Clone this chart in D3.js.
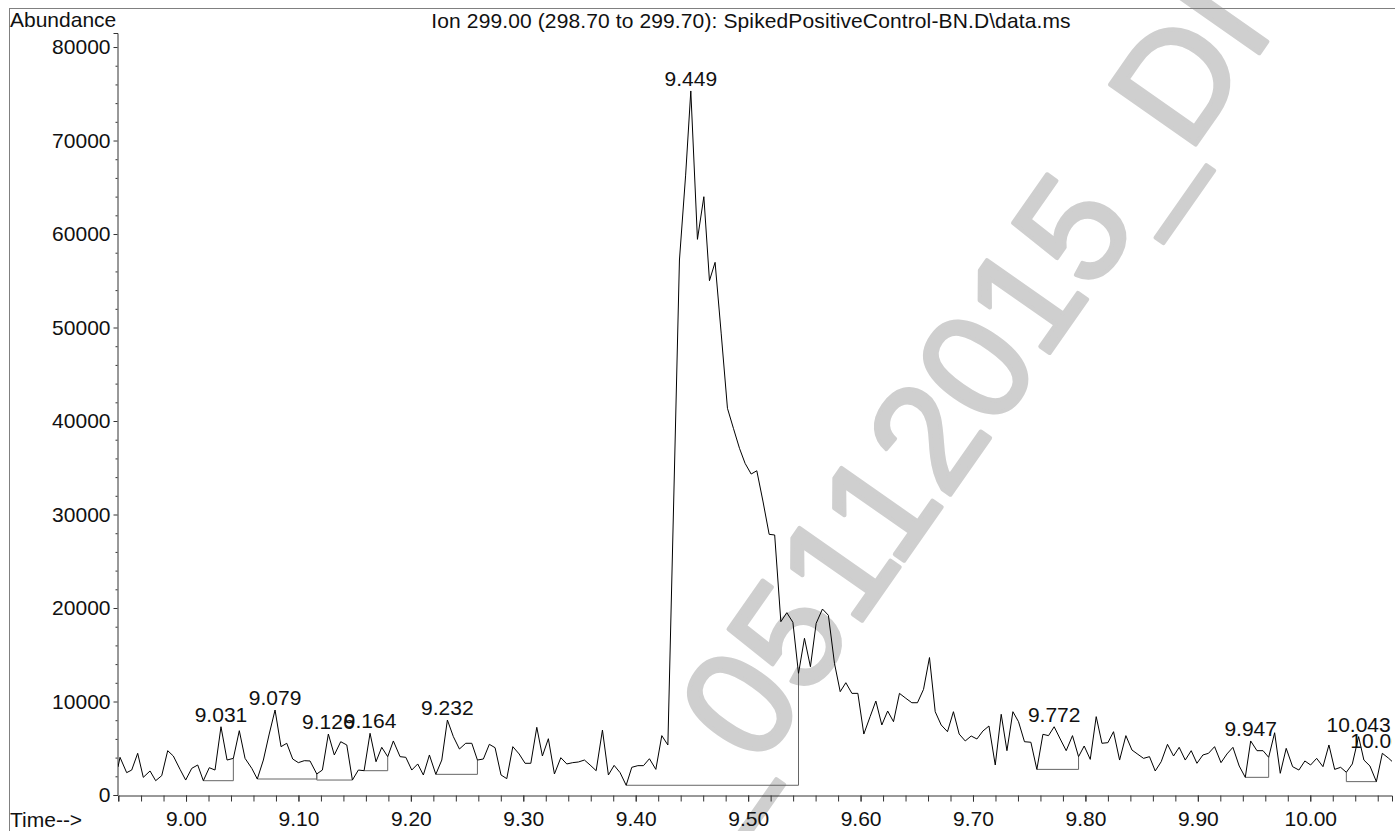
<!DOCTYPE html>
<html>
<head>
<meta charset="utf-8">
<script src="https://cdn.jsdelivr.net/npm/d3@7"></script>
<style>
  body { margin: 0; background: #fff; }
  text { font-family: "Liberation Sans", Arial, Helvetica, sans-serif; fill: #111; }
</style>
</head>
<body>
<div class="chromatogram"></div>
<script>
//Ion chromatogram data (retention time in minutes, abundance in counts)
var times = [8.9395, 8.9413, 8.9472, 8.9517, 8.9570, 8.9620, 8.9680, 8.9730, 8.9784, 8.9837,
  8.9887, 8.9947, 8.9997, 9.0051, 9.0104, 9.0154, 9.0207, 9.0258, 9.0311, 9.0365,
  9.0421, 9.0474, 9.0525, 9.0585, 9.0634, 9.0688, 9.0738, 9.0792, 9.0845, 9.0896,
  9.0949, 9.0999, 9.1052, 9.1103, 9.1163, 9.1213, 9.1266, 9.1319, 9.1376, 9.1430,
  9.1480, 9.1533, 9.1584, 9.1637, 9.1690, 9.1741, 9.1794, 9.1844, 9.1904, 9.1955,
  9.2008, 9.2061, 9.2111, 9.2165, 9.2222, 9.2275, 9.2325, 9.2378, 9.2432, 9.2488,
  9.2542, 9.2592, 9.2645, 9.2698, 9.2749, 9.2802, 9.2853, 9.2907, 9.2963, 9.3016,
  9.3067, 9.3120, 9.3170, 9.3223, 9.3277, 9.3334, 9.3387, 9.3440, 9.3490, 9.3544,
  9.3594, 9.3648, 9.3704, 9.3757, 9.3808, 9.3861, 9.3915, 9.3965, 9.4019, 9.4069,
  9.4122, 9.4179, 9.4232, 9.4286, 9.4389, 9.4444, 9.4490, 9.4549, 9.4606, 9.4656,
  9.4706, 9.4760, 9.4816, 9.4869, 9.4923, 9.4973, 9.5027, 9.5077, 9.5133, 9.5187,
  9.5236, 9.5291, 9.5344, 9.5398, 9.5448, 9.5501, 9.5554, 9.5605, 9.5661, 9.5714,
  9.5768, 9.5819, 9.5869, 9.5923, 9.5976, 9.6029, 9.6085, 9.6136, 9.6189, 9.6241,
  9.6293, 9.6346, 9.6403, 9.6456, 9.6506, 9.6560, 9.6613, 9.6664, 9.6717, 9.6773,
  9.6826, 9.6877, 9.6931, 9.6984, 9.7035, 9.7088, 9.7142, 9.7198, 9.7251, 9.7302,
  9.7355, 9.7405, 9.7458, 9.7515, 9.7568, 9.7622, 9.7672, 9.7722, 9.7776, 9.7829,
  9.7885, 9.7939, 9.7989, 9.8043, 9.8096, 9.8147, 9.8200, 9.8250, 9.8304, 9.8360,
  9.8414, 9.8467, 9.8517, 9.8570, 9.8621, 9.8674, 9.8730, 9.8784, 9.8834, 9.8888,
  9.8941, 9.8992, 9.9045, 9.9095, 9.9149, 9.9206, 9.9259, 9.9312, 9.9368, 9.9422,
  9.9470, 9.9526, 9.9580, 9.9630, 9.9683, 9.9733, 9.9786, 9.9843, 9.9899, 9.9952,
  10.0003, 10.0057, 10.0113, 10.0166, 10.0217, 10.0270, 10.0321, 10.0374, 10.0430, 10.0477,
  10.0531, 10.0588, 10.0641, 10.0698, 10.0727];

var abundance = [3000, 4030, 2390, 2670, 4460, 1890, 2570, 1530, 2070, 4740,
  4170, 2740, 1600, 2850, 3210, 1530, 2920, 2670, 7300, 3740,
  3920, 6880, 3920, 2850, 1710, 3740, 6420, 9090, 5170, 5530,
  3850, 3460, 3670, 3640, 2250, 2670, 6520, 4280, 5700, 5350,
  1600, 2670, 2600, 6600, 3560, 5100, 4100, 5780, 4100, 4030,
  2670, 3320, 2140, 4280, 2210, 3740, 8020, 6240, 4920, 5530,
  5530, 3740, 3850, 5420, 5060, 2140, 1750, 5170, 4390, 3390,
  3390, 7240, 4170, 6020, 2250, 3990, 3320, 3460, 3530, 3740,
  3210, 2600, 6950, 2140, 3170, 2390, 1040, 2960, 3140, 3140,
  3880, 2740, 6350, 5350, 57220, 66300, 75300, 59430, 63990, 55010,
  56970, 49400, 41360, 39220, 37080, 35470, 34330, 34680, 31340, 27880,
  27810, 18540, 19500, 18470, 13010, 16760, 13720, 18360, 19890, 19220,
  14080, 11050, 12010, 10870, 10870, 6520, 8380, 10050, 7490, 8980,
  7840, 10870, 10340, 9870, 9870, 11300, 14700, 8910, 7490, 6770,
  8910, 6520, 5780, 6310, 5990, 6840, 7380, 3210, 8630, 4740,
  8910, 7840, 5700, 5640, 2740, 6490, 6350, 7300, 5990, 4740,
  6350, 4100, 5240, 3810, 8380, 5530, 5600, 6770, 3740, 6350,
  4810, 4350, 3920, 4100, 2570, 3560, 5420, 4170, 5100, 3740,
  4740, 3390, 4280, 4460, 5170, 3460, 4390, 5100, 3100, 1890,
  5780, 4740, 4740, 4030, 6660, 2320, 4990, 3030, 2670, 3640,
  3210, 3920, 3030, 5350, 2740, 2960, 2430, 3320, 6240, 3740,
  3100, 1430, 4460, 3920, 3600];

//Integrated peaks: apex label, apex time, integration start and end
var peakLabels = ["9.031", "9.079", "9.126", "9.164", "9.232", "9.449", "9.772", "9.947", "10.043", "10.064"];
var peakApex   = [9.0311, 9.0792, 9.1266, 9.1637, 9.2325, 9.4490, 9.7722, 9.9470, 10.0430, 10.0641];
var peakStart  = [9.0154, 9.0634, 9.1163, 9.1584, 9.2222, 9.3915, 9.7568, 9.9422, 10.0321, null];
var peakEnd    = [9.0421, 9.1163, 9.1480, 9.1794, 9.2592, 9.5448, 9.7939, 9.9630, 10.0588, null];

//Axis ticks
var xTicks = [9.00, 9.10, 9.20, 9.30, 9.40, 9.50, 9.60, 9.70, 9.80, 9.90, 10.00];
var yTicks = [0, 10000, 20000, 30000, 40000, 50000, 60000, 70000, 80000];

var titleText = "Ion 299.00 (298.70 to 299.70): SpikedPositiveControl-BN.D\\data.ms";
var watermarkText = "05112015_DI";

//Canvas
var width = 1395,
    height = 831;

var margin = {
  top: 33,
  bottom: 36,
  left: 118,
  right: 3
};

var svg = d3.select(".chromatogram")
            .append("svg")
            .attr("width", width)
            .attr("height", height);

//Scales
var x = d3.scaleLinear()
          .domain([8.9395, 10.0727])
          .range([margin.left, width - margin.right]);

var y = d3.scaleLinear()
          .domain([0, 81500])
          .range([height - margin.bottom, margin.top]);

var fontSize = 21;

//Watermark (behind the trace)
svg.append("text")
   .attr("transform", "translate(710,838) rotate(-55)")
   .attr("font-size", 152)
   .style("fill", "#cfcfcf")
   .style("stroke", "#cfcfcf")
   .style("stroke-width", 4)
   .style("stroke-linejoin", "round")
   .text("_" + watermarkText);

//Outer frame
svg.append("line")
   .attr("x1", 9).attr("x2", width)
   .attr("y1", 8.5).attr("y2", 8.5)
   .attr("stroke", "#808080");
svg.append("line")
   .attr("x1", 9.5).attr("x2", 9.5)
   .attr("y1", 8).attr("y2", height)
   .attr("stroke", "#808080");

//Y axis: labelled ticks every 10000, small ticks every 2000
var yMinor = d3.range(0, 80001, 2000).filter(function(d) { return d % 10000 != 0; });

var yAxis = svg.append("g")
   .attr("transform", "translate(" + (margin.left - 0.5) + ",0)")
   .call(d3.axisLeft(y).tickValues(yTicks).tickSize(4).tickPadding(3).tickFormat(d3.format("d")));

svg.append("g")
   .attr("transform", "translate(" + (margin.left - 0.5) + ",0)")
   .call(d3.axisLeft(y).tickValues(yMinor).tickSize(2).tickFormat(""))
   .select(".domain").remove();

//X axis: labels every 0.1 min, ticks every 0.02 min
var xMinor = d3.range(0, 57).map(function(i) { return +(8.94 + i * 0.02).toFixed(2); });

var xAxis = svg.append("g")
   .attr("transform", "translate(0," + (height - margin.bottom + 0.5) + ")")
   .call(d3.axisBottom(x).tickValues(xTicks).tickSize(6).tickPadding(10).tickFormat(d3.format(".2f")));

svg.append("g")
   .attr("transform", "translate(0," + (height - margin.bottom + 0.5) + ")")
   .call(d3.axisBottom(x).tickValues(xMinor).tickSize(6).tickFormat(""))
   .select(".domain").remove();

svg.selectAll(".tick text")
   .attr("font-size", fontSize)
   .style("fill", "#111");
svg.selectAll(".domain, .tick line").attr("stroke", "#333");
svg.selectAll("g").attr("font-family", null);

//Axis titles and chart title
svg.append("text")
   .attr("x", 10).attr("y", 27)
   .attr("font-size", fontSize)
   .text("Abundance");

svg.append("text")
   .attr("x", 10).attr("y", 827)
   .attr("font-size", fontSize)
   .text("Time-->");

svg.append("text")
   .attr("x", 751).attr("y", 28)
   .attr("text-anchor", "middle")
   .attr("font-size", fontSize)
   .style("letter-spacing", "0.12px")
   .text(titleText);

//Clip the plot contents to the axis range
svg.append("clipPath")
   .attr("id", "plotClip")
   .append("rect")
   .attr("x", margin.left).attr("y", 0)
   .attr("width", width - margin.right - margin.left)
   .attr("height", height - margin.bottom + 1);

var plot = svg.append("g").attr("clip-path", "url(#plotClip)");

var points = times.map(function(t, i) { return { t: t, v: abundance[i] }; });

function valueAt(t) {
  var best = points[0];
  points.forEach(function(p) { if (Math.abs(p.t - t) < Math.abs(best.t - t)) best = p; });
  return best.v;
}

//Integration baselines
var peaks = peakLabels.map(function(label, i) {
  return { label: label, apex: peakApex[i], start: peakStart[i], end: peakEnd[i] };
});

plot.selectAll(".baseline")
    .data(peaks.filter(function(d) { return d.start != null; }))
    .enter()
    .append("path")
    .attr("class", "baseline")
    .attr("fill", "none")
    .attr("stroke", "#666")
    .attr("stroke-width", 1)
    .attr("d", function(d) {
      var v0 = valueAt(d.start), v1 = valueAt(d.end);
      var base = Math.min(v0, v1);
      return "M" + x(d.start) + "," + y(v0) +
             "L" + x(d.start) + "," + y(base) +
             "L" + x(d.end) + "," + y(base) +
             "L" + x(d.end) + "," + y(v1);
    });

//Signal trace
var line = d3.line()
             .x(function(d) { return x(d.t); })
             .y(function(d) { return y(d.v); });

plot.append("path")
    .datum(points)
    .attr("fill", "none")
    .attr("stroke", "#000")
    .attr("stroke-width", 1)
    .attr("d", line);

//Peak labels
plot.selectAll(".peakLabel")
    .data(peaks)
    .enter()
    .append("text")
    .attr("class", "peakLabel")
    .attr("x", function(d) { return x(d.apex); })
    .attr("y", function(d) { return y(valueAt(d.apex)) - 5; })
    .attr("text-anchor", "middle")
    .attr("font-size", fontSize)
    .text(function(d) { return d.label; });
</script>
</body>
</html>
